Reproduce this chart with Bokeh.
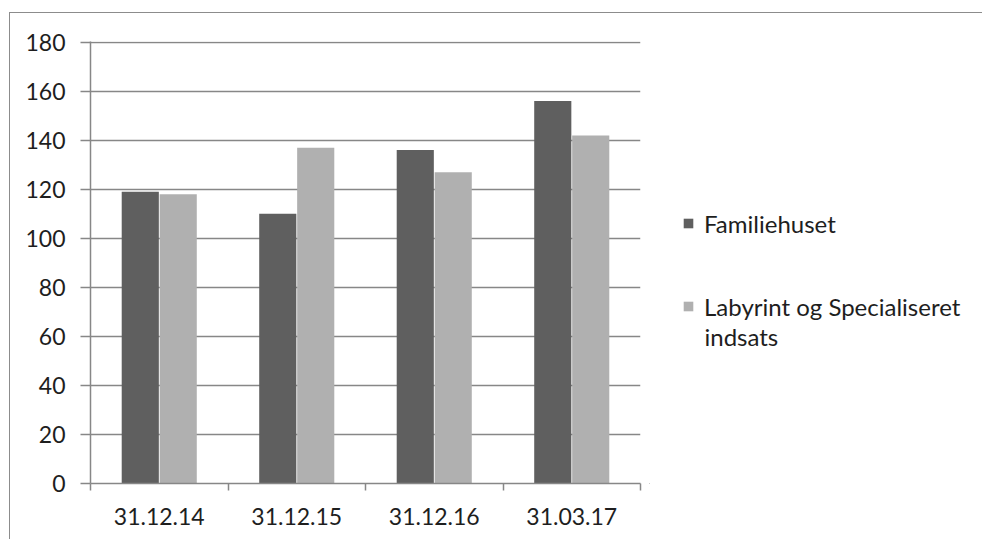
from bokeh.plotting import figure
from bokeh.layouts import row
from bokeh.models import FixedTicker, Range1d, Legend, LegendItem, ColumnDataSource, Label
from bokeh.transform import dodge
from bokeh.embed import file_html
from bokeh.resources import INLINE

categories = ["31.12.14", "31.12.15", "31.12.16", "31.03.17"]
series_names = ["Familiehuset", "Labyrint og Specialiseret\nindsats"]
series_colors = ["#5f5f5f", "#b0b0b0"]
familiehuset = [119, 110, 136, 156]
labyrint = [118, 137, 127, 142]
y_ticks = [0, 20, 40, 60, 80, 100, 120, 140, 160, 180]

xs = [i + 0.5 for i in range(len(categories))]
src = ColumnDataSource(dict(x=xs, f=familiehuset, l=labyrint))

FONT = "Lato"
GRID = "#878787"
TEXT = "#1e1e1e"
BORDER = "1px solid #8c8c8c"

p = figure(width=640, height=527, output_backend="svg", toolbar_location=None,
           x_range=Range1d(0, len(categories)), y_range=Range1d(0, 180.3),
           min_border_left=80, min_border_right=10, min_border_top=28,
           min_border_bottom=57)
p.styles = {"border-left": BORDER, "border-top": BORDER,
            "margin-top": "12px", "margin-left": "9px"}
p.outline_line_color = None

r1 = p.vbar(x=dodge("x", -0.138), top="f", width=0.27, source=src,
            fill_color=series_colors[0], line_color=None)
r2 = p.vbar(x=dodge("x", 0.138), top="l", width=0.27, source=src,
            fill_color=series_colors[1], line_color=None)

# x axis: labels at category centres, ticks at category boundaries
p.xaxis.ticker = FixedTicker(ticks=xs, minor_ticks=list(range(len(categories) + 1)))
p.xaxis.major_label_overrides = {x: c for x, c in zip(xs, categories)}
p.xaxis.major_tick_out = 0
p.xaxis.major_tick_in = 0
p.xaxis.minor_tick_out = 7
p.xaxis.minor_tick_in = 0
p.xaxis.minor_tick_line_color = GRID
p.xaxis.minor_tick_line_width = 1.5
p.xaxis.axis_line_color = GRID
p.xaxis.axis_line_width = 1.5
p.xaxis.major_label_standoff = 17
p.xaxis.major_label_text_font = FONT
p.xaxis.major_label_text_font_size = "23px"
p.xaxis.major_label_text_color = TEXT

p.yaxis.ticker = FixedTicker(ticks=y_ticks)
p.yaxis.major_tick_out = 10
p.yaxis.major_tick_in = 0
p.yaxis.major_tick_line_color = GRID
p.yaxis.major_tick_line_width = 1.5
p.yaxis.minor_tick_line_color = None
p.yaxis.axis_line_color = GRID
p.yaxis.axis_line_width = 1.5
p.yaxis.major_label_standoff = 15
p.yaxis.major_label_text_font = FONT
p.yaxis.major_label_text_font_size = "23px"
p.yaxis.major_label_text_color = TEXT

p.xgrid.grid_line_color = None
p.ygrid.ticker = FixedTicker(ticks=y_ticks)
p.ygrid.grid_line_color = GRID
p.ygrid.grid_line_width = 1.5
p.ygrid.level = "underlay"

# legend panel: same bars, with a view far away from them, only used for legend swatches
lg = figure(width=333, height=527, output_backend="svg", toolbar_location=None,
            x_range=Range1d(1000, 1001), y_range=Range1d(5000, 5001),
            x_axis_location=None, y_axis_location=None,
            min_border=0)
lg.styles = {"border-top": BORDER, "margin-top": "12px"}
lg.outline_line_color = None
lg.xgrid.grid_line_color = None
lg.ygrid.grid_line_color = None

k1 = lg.vbar(x="x", top="f", width=0.27, source=src,
             fill_color=series_colors[0], line_color=None)
k2 = lg.vbar(x="x", top="l", width=0.27, source=src,
             fill_color=series_colors[1], line_color=None)
name_lines = series_names[1].split("\n")

legend = Legend(items=[LegendItem(label=series_names[0], renderers=[k1]),
                       LegendItem(label=name_lines[0], renderers=[k2])],
                location=(33, 162), orientation="vertical",
                label_text_font=FONT, label_text_font_size="24px",
                label_text_color=TEXT, glyph_width=12, glyph_height=12,
                label_height=30, label_standoff=10, spacing=53,
                border_line_color=None, background_fill_alpha=0,
                padding=0, margin=0)
lg.add_layout(legend, "center")
lg.add_layout(Label(x=55, y=147, x_units="screen", y_units="screen",
                    text=" ".join(name_lines[1:]), text_font=FONT,
                    text_font_size="24px", text_color=TEXT,
                    text_baseline="middle"))

layout = row(p, lg)
open("out.html", "w").write(file_html(layout, INLINE))
